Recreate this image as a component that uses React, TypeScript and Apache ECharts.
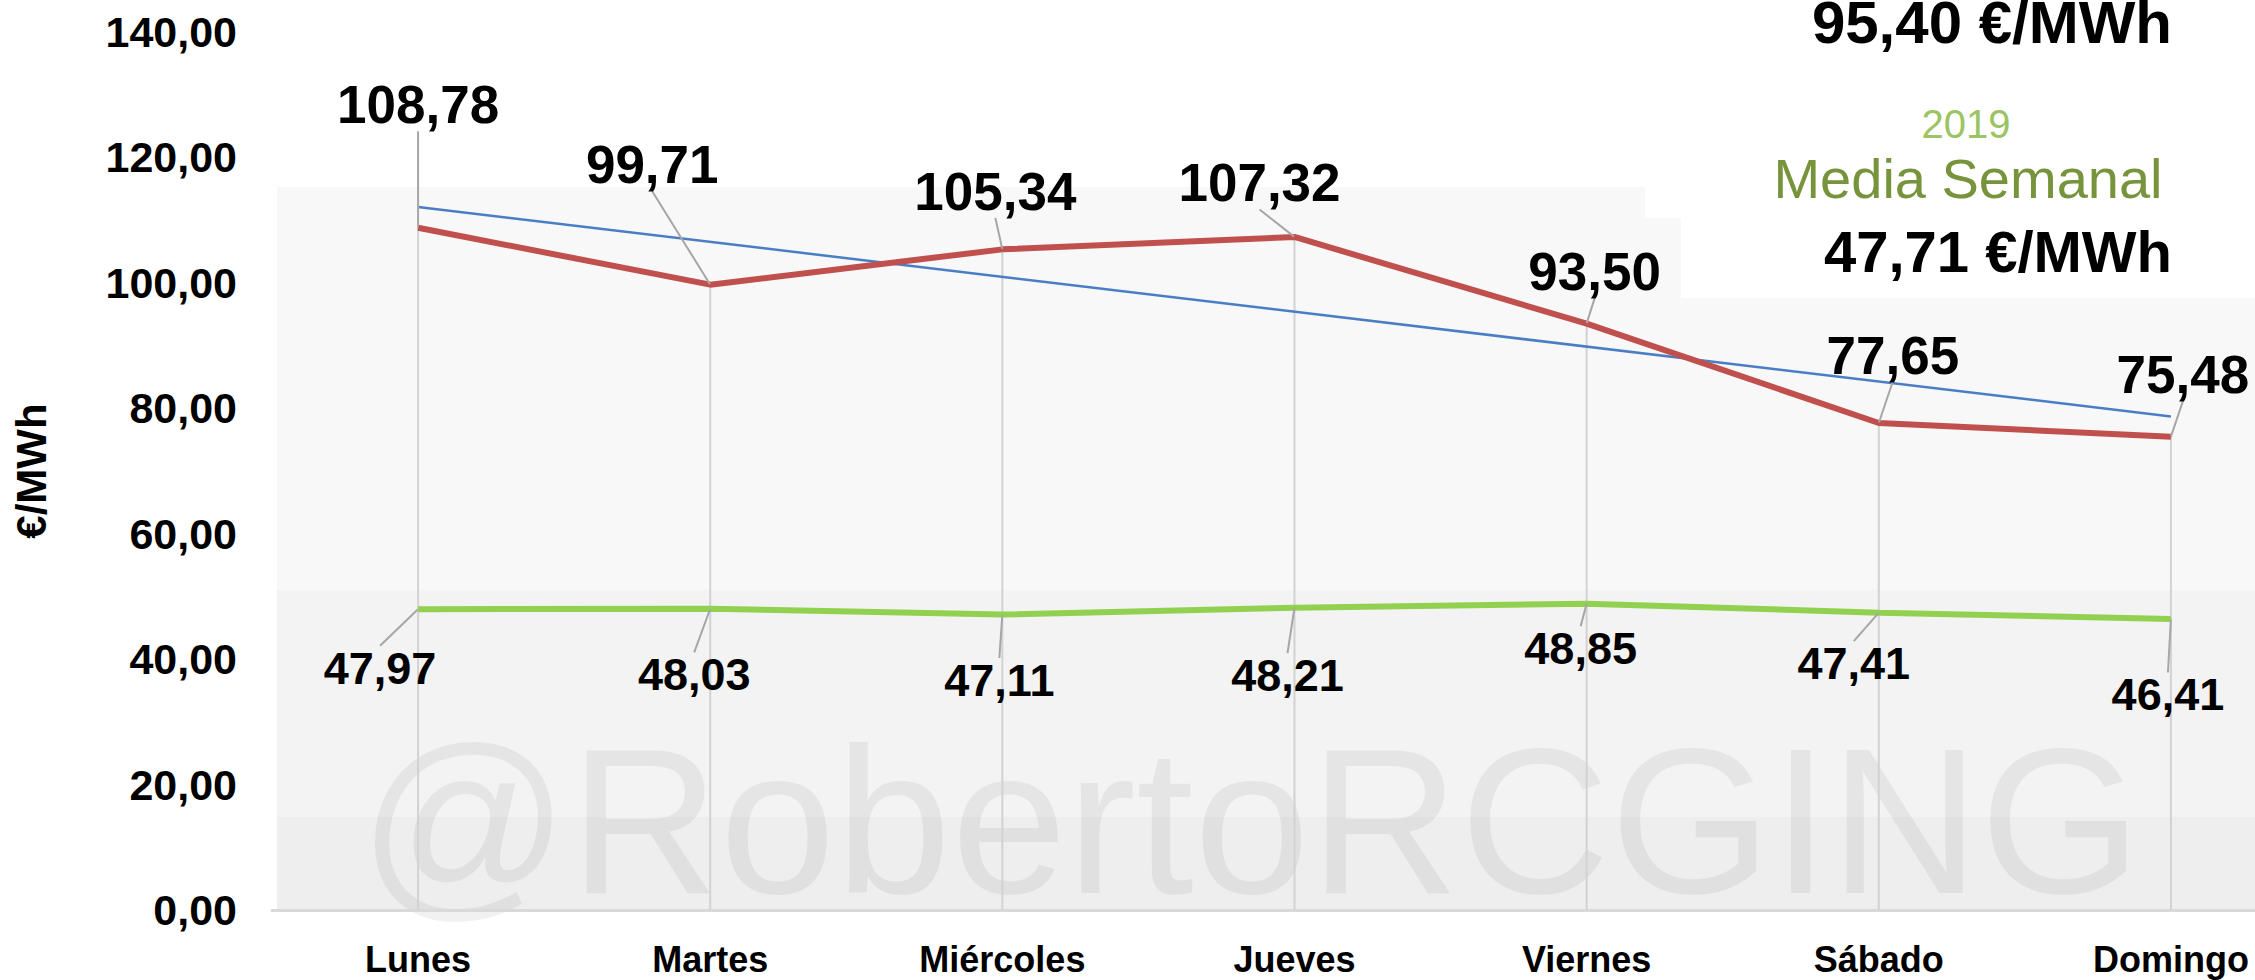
import React, { useEffect, useRef } from "react";
import * as echarts from "echarts";

const days = ["Lunes", "Martes", "Miércoles", "Jueves", "Viernes", "Sábado", "Domingo"];
const precio2020 = [108.78, 99.71, 105.34, 107.32, 93.5, 77.65, 75.48];
const precio2019 = [47.97, 48.03, 47.11, 48.21, 48.85, 47.41, 46.41];
const tendencia2020 = [112.1, null, null, null, null, null, 78.7];
const yMin = 0;
const yMax = 140;
const yStep = 20;
const media2020Text = "95,40 €/MWh";
const media2019Year = "2019";
const mediaLabel = "Media Semanal";
const media2019Text = "47,71 €/MWh";
const watermark = "@RobertoRCGING";
const yAxisName = "€/MWh";

// label offsets (layout only)
const redOffsets = [[0, -123], [-58, -120], [-7, -58], [-35, -54], [8, -52], [14, -68], [12, -62]];
const greenOffsets = [[-38, 59], [-16, 66], [-3, 66], [-7, 68], [-6, 45], [-25, 51], [-3, 76]];

const fmt = (v: number) => v.toFixed(2).replace(".", ",");
const FONT = '"Liberation Sans", Arial, sans-serif';

export default function App() {
  const ref = useRef<HTMLDivElement>(null);
  useEffect(() => {
    if (!ref.current) return;
    const chart = echarts.init(ref.current, undefined, { renderer: "svg" });
    const bgZ = -10;
    const option: any = {
      animation: false,
      backgroundColor: "#ffffff",
      textStyle: { fontFamily: FONT },
      grid: { left: 272, top: 32, width: 2045, height: 878, containLabel: false, outerBoundsMode: "none" },
      xAxis: {
        type: "category",
        data: days,
        boundaryGap: true,
        axisLine: { show: true, lineStyle: { color: "#d9d9d9", width: 3 } },
        axisTick: { show: false },
        splitLine: { show: false },
        axisLabel: { fontSize: 36, fontWeight: "bold", color: "#000", margin: 31, fontFamily: FONT },
      },
      yAxis: {
        type: "value",
        min: yMin,
        max: yMax,
        interval: yStep,
        axisLine: { show: false },
        axisTick: { show: false },
        splitLine: { show: false },
        axisLabel: {
          fontSize: 43,
          fontWeight: "bold",
          color: "#000",
          margin: 35,
          fontFamily: FONT,
          formatter: (v: number) => fmt(v),
        },
        name: yAxisName,
        nameLocation: "middle",
        nameRotate: 90,
        nameGap: 220,
        nameTextStyle: { fontSize: 42, fontWeight: "bold", color: "#000", fontFamily: FONT },
      },
      graphic: [
        { type: "rect", z: bgZ, shape: { x: 277, y: 187, width: 1978, height: 403 }, style: { fill: "#f8f8f8" } },
        { type: "rect", z: bgZ, shape: { x: 277, y: 590, width: 1978, height: 227 }, style: { fill: "#f3f3f3" } },
        { type: "rect", z: bgZ, shape: { x: 277, y: 817, width: 1978, height: 93 }, style: { fill: "#eeeeee" } },
        { type: "rect", z: bgZ + 1, shape: { x: 1645, y: 187, width: 40, height: 31 }, style: { fill: "#ffffff" } },
        { type: "rect", z: bgZ + 1, shape: { x: 1681, y: 187, width: 574, height: 111 }, style: { fill: "#ffffff" } },
        {
          type: "text",
          z: bgZ + 2,
          style: {
            text: watermark,
            x: 1250,
            y: 821,
            align: "center",
            verticalAlign: "middle",
            font: `208px ${FONT}`,
            fill: "rgba(0,0,0,0.055)",
          },
        },
        {
          type: "text",
          z: 50,
          style: { text: media2020Text, x: 2172, y: 22, align: "right", verticalAlign: "middle", font: `bold 60px ${FONT}`, fill: "#000" },
        },
        {
          type: "text",
          z: 50,
          style: { text: media2019Year, x: 1966, y: 124, align: "center", verticalAlign: "middle", font: `40px ${FONT}`, fill: "#9bc462" },
        },
        {
          type: "text",
          z: 50,
          style: { text: mediaLabel, x: 1968, y: 178, align: "center", verticalAlign: "middle", font: `56px ${FONT}`, fill: "#77933c" },
        },
        {
          type: "text",
          z: 50,
          style: { text: media2019Text, x: 2172, y: 251, align: "right", verticalAlign: "middle", font: `bold 58px ${FONT}`, fill: "#000" },
        },
      ],
      series: [
        {
          type: "bar",
          data: precio2020,
          barWidth: 2,
          itemStyle: { color: "#d2d2d2" },
          silent: true,
          z: 1,
        },
        {
          type: "line",
          data: tendencia2020,
          connectNulls: true,
          symbol: "none",
          lineStyle: { color: "#4a7ec4", width: 2.5 },
          z: 3,
        },
        {
          type: "line",
          data: precio2020,
          symbol: "circle",
          symbolSize: 1,
          showSymbol: true,
          itemStyle: { color: "#c0504d" },
          lineStyle: { color: "#c0504d", width: 6 },
          z: 4,
          label: {
            show: true,
            position: "inside",
            formatter: (p: any) => fmt(p.value),
            fontSize: 53,
            fontWeight: "bold",
            color: "#000",
            fontFamily: FONT,
          },
          labelLine: { show: true, lineStyle: { color: "#a6a6a6", width: 2 } },
          labelLayout: (p: any) => ({ dx: redOffsets[p.dataIndex][0], dy: redOffsets[p.dataIndex][1] }),
        },
        {
          type: "line",
          data: precio2019,
          symbol: "circle",
          symbolSize: 1,
          showSymbol: true,
          itemStyle: { color: "#92d050" },
          lineStyle: { color: "#92d050", width: 6 },
          z: 4,
          label: {
            show: true,
            position: "inside",
            formatter: (p: any) => fmt(p.value),
            fontSize: 45,
            fontWeight: "bold",
            color: "#000",
            fontFamily: FONT,
          },
          labelLine: { show: true, lineStyle: { color: "#a6a6a6", width: 2 } },
          labelLayout: (p: any) => ({ dx: greenOffsets[p.dataIndex][0], dy: greenOffsets[p.dataIndex][1] }),
        },
      ],
    };
    chart.setOption(option);
    return () => chart.dispose();
  }, []);
  return <div ref={ref} style={{ position: "absolute", left: 0, top: 0, width: 2255, height: 980 }} />;
}
